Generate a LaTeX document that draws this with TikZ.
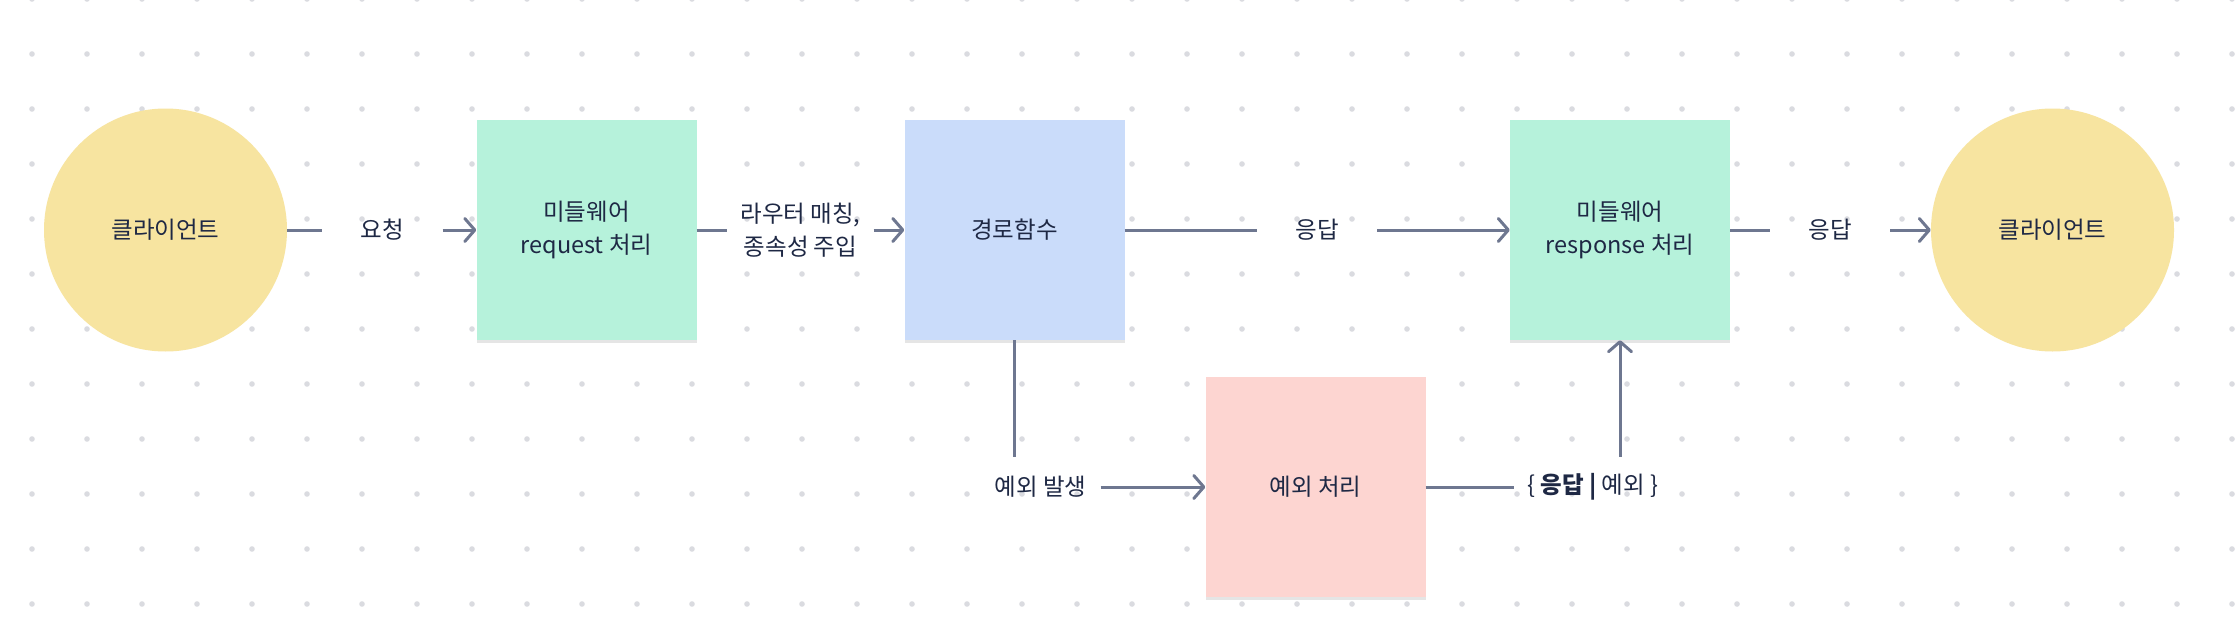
\documentclass[tikz,border=0pt]{standalone}
\usepackage{fontspec}
\setmainfont{Noto Sans CJK KR}
\usetikzlibrary{arrows.meta,shadows}
\definecolor{dotc}{HTML}{DADBE0}
\definecolor{linec}{HTML}{6E7790}
\definecolor{txtc}{HTML}{1E2844}
\definecolor{yel}{HTML}{F7E4A0}
\definecolor{grn}{HTML}{B6F2DB}
\definecolor{blu}{HTML}{CADCFA}
\definecolor{pnk}{HTML}{FDD5D1}
\tikzset{
  base/.style={text=txtc, font=\fontsize{23.5}{33}\selectfont, align=center},
  client/.style={base, circle, fill=yel, minimum size=243pt, inner sep=0pt},
  card/.style={base, rectangle, minimum width=220pt, minimum height=220pt, inner sep=0pt,
    drop shadow={shadow xshift=0pt, shadow yshift=-3pt, opacity=0.10, fill=black}},
  lbl/.style={base, minimum width=120pt, inner xsep=13pt, inner ysep=0pt, minimum height=60pt},
  conn/.style={draw=linec, line width=3pt},
  arr/.style={conn, -{Straight Barb[length=10pt,width=23pt,round]}}
}
\begin{document}
\begin{tikzpicture}[x=1pt,y=-1pt]
\useasboundingbox (0,0) rectangle (2236,626);
\fill[white] (0,0) rectangle (2236,626);
\foreach \i in {0,...,40} {
  \foreach \j in {0,...,11} {
    \fill[dotc] (32+55*\i, -1+55*\j) circle (2.8pt);
  }
}
% nodes
\node[client] (c1) at (165.5,230) {클라이언트};
\node[card, fill=grn] (mreq) at (586.5,230) {미들웨어\\request 처리};
\node[card, fill=blu] (route) at (1014.5,230) {경로함수};
\node[card, fill=grn] (mres) at (1620,230) {미들웨어\\response 처리};
\node[client] (c2) at (2052.5,230) {클라이언트};
\node[card, fill=pnk] (exc) at (1315.5,487) {예외 처리};
% labels
\node[lbl] (l1) at (382.5,230) {요청};
\node[lbl] (l2) at (800.5,230) {라우터 매칭,\\종속성 주입};
\node[lbl] (l3) at (1317,230) {응답};
\node[lbl] (l4) at (1830,230) {응답};
\node[lbl] (l5) at (1040.5,487) {예외 발생};
\node[lbl] (l6) at (1593,487) {\{ {\bfseries 응답 |} 예외 \}};
% connectors
\draw[conn] (c1) -- (l1);
\draw[arr] (l1) -- (mreq);
\draw[conn] (mreq) -- (l2);
\draw[arr] (l2) -- (route);
\draw[conn] (route) -- (l3);
\draw[arr] (l3) -- (mres);
\draw[conn] (mres) -- (l4);
\draw[arr] (l4) -- (c2);
\draw[conn] (route.south) -- (route.south |- l5.north);
\draw[arr] (l5) -- (exc);
\draw[conn] (exc) -- (l6);
\draw[arr] (l6.north -| mres.south) -- (mres.south);
\end{tikzpicture}
\end{document}
